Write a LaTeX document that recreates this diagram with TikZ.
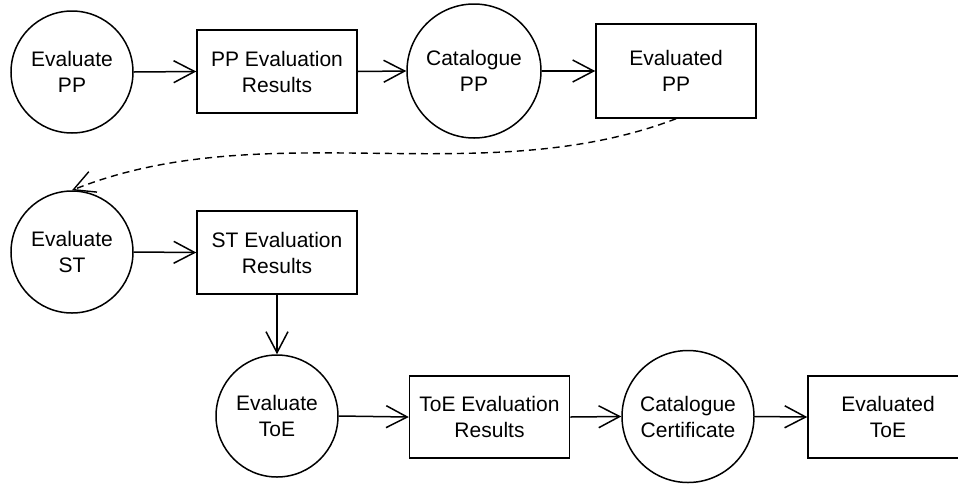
\documentclass[tikz,border=0pt]{standalone}
\usepackage{fontspec}
\setmainfont{Liberation Sans}
\usetikzlibrary{arrows.meta}
\begin{document}
\begin{tikzpicture}[x=1pt,y=-1pt,
  every node/.style={font=\fontsize{21}{26}\selectfont, align=center, inner sep=0pt, line width=1.5pt},
  proc/.style={draw, circle, minimum size=#1},
  store/.style={draw, rectangle, minimum width=160pt, minimum height=#1},
  flow/.style={line width=1.5pt, -{Straight Barb[length=21pt,width=22pt]}},
  back/.style={line width=1.4pt, dash pattern=on 7pt off 5pt, -{Straight Barb[length=21pt,width=22pt]}}
]
\clip (0,0) rectangle (958,483);
\node[proc=122pt] (ep)  at (72,72)    {Evaluate\\PP};
\node[store=83pt] (ppr) at (277,71.5) {PP Evaluation\\Results};
\node[proc=134pt] (cpp) at (474,71)   {Catalogue\\PP};
\node[store=94pt] (epp) at (676,71)   {Evaluated\\PP};
\node[proc=122pt] (est) at (72,252)   {Evaluate\\ST};
\node[store=83pt] (str) at (277,252.5){ST Evaluation\\Results};
\node[proc=122pt] (etoe) at (277,416) {Evaluate\\ToE};
\node[store=82pt] (toer) at (489.5,417) {ToE Evaluation\\Results};
\node[proc=132pt] (cc) at (688,416.5) {Catalogue\\Certificate};
\node[store=82pt] (etoeb) at (888,417) {Evaluated\\ToE};

\draw[flow] (ep.east) -- (ppr.west);
\draw[flow] (ppr.east) -- (cpp.west);
\draw[flow] (cpp.east) -- (epp.west);
\draw[back] (epp.south) .. controls (482,193) and (265,113) .. (est.north);
\draw[flow] (est.east) -- (str.west);
\draw[flow] (str.south) -- (etoe.north);
\draw[flow] (etoe.east) -- (toer.west);
\draw[flow] (toer.east) -- (cc.west);
\draw[flow] (cc.east) -- (etoeb.west);
\end{tikzpicture}
\end{document}
